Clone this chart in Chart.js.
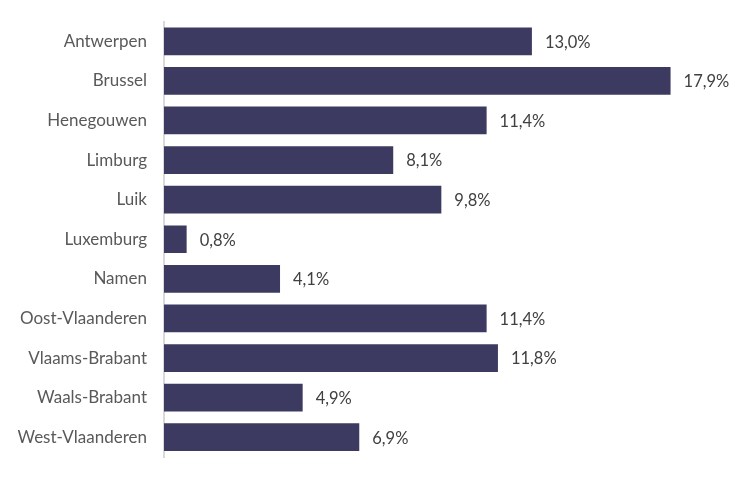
<!DOCTYPE html>
<html>
<head>
<meta charset="utf-8">
<script src="https://cdn.jsdelivr.net/npm/chart.js@4"></script>
<style>
  html, body { margin: 0; padding: 0; background: #fff; }
  #wrap { width: 754px; height: 480px; }
</style>
</head>
<body>
<div id="wrap"><canvas id="myChart"></canvas></div>
<script>
const provinces = ['Antwerpen', 'Brussel', 'Henegouwen', 'Limburg', 'Luik', 'Luxemburg',
  'Namen', 'Oost-Vlaanderen', 'Vlaams-Brabant', 'Waals-Brabant', 'West-Vlaanderen'];
const shares = [13.0, 17.9, 11.4, 8.1, 9.8, 0.8, 4.1, 11.4, 11.8, 4.9, 6.9];

const fontFamily = 'Lato, "Open Sans", sans-serif';

// value labels to the right of each bar
const valueLabels = {
    id: 'valueLabels',
    afterDatasetsDraw(chart) {
        const ctx = chart.ctx;
        const meta = chart.getDatasetMeta(0);
        ctx.save();
        ctx.font = '16.5px ' + fontFamily;
        ctx.fillStyle = '#404040';
        ctx.textAlign = 'left';
        ctx.textBaseline = 'middle';
        meta.data.forEach(function(bar, i) {
            ctx.fillText(shares[i].toFixed(1).replace('.', ',') + '%', bar.x + 13, bar.y + 1);
        });
        ctx.restore();
    }
};

const ctx = document.getElementById('myChart').getContext('2d');

new Chart(ctx, {
    type: 'bar',
    data: {
        labels: provinces,
        datasets: [{
            data: shares,
            backgroundColor: '#3c3a60',
            borderWidth: 0,
            categoryPercentage: 1,
            barPercentage: 0.7
        }]
    },
    options: {
        indexAxis: 'y',
        responsive: true,
        maintainAspectRatio: false,
        animation: false,
        layout: {
            padding: { top: 21.5, bottom: 23, left: 0, right: 24 }
        },
        scales: {
            x: {
                display: false,
                min: 0,
                max: 20
            },
            y: {
                afterFit: function(scale) { scale.width = 164; },
                grid: { display: false },
                border: { display: true, color: '#d9d9d9', width: 2 },
                ticks: {
                    color: '#595959',
                    padding: 9,
                    font: { family: fontFamily, size: 17 }
                }
            }
        },
        plugins: {
            legend: { display: false },
            tooltip: { enabled: false }
        }
    },
    plugins: [valueLabels]
});
</script>
</body>
</html>
